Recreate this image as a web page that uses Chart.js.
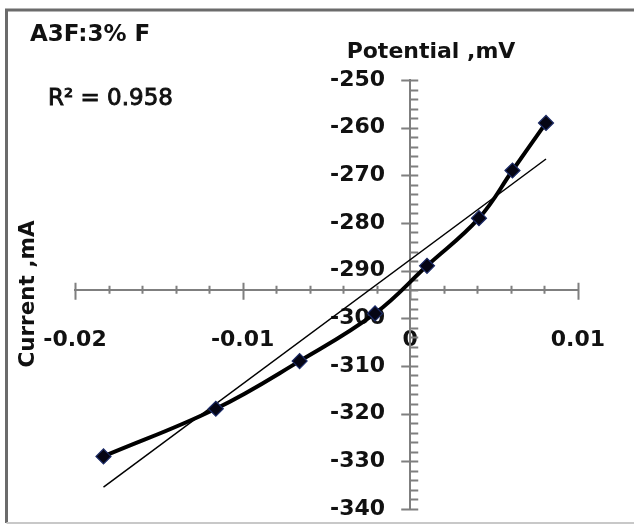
<!DOCTYPE html>
<html>
<head>
<meta charset="utf-8">
<script src="https://cdn.jsdelivr.net/npm/chart.js@4/dist/chart.umd.min.js"></script>
<style>
  html, body { margin: 0; padding: 0; background: #fff; }
  #wrap { width: 634px; height: 525px; }
</style>
</head>
<body>
<div id="wrap"><canvas id="polChart" width="634" height="525"></canvas></div>
<script>
// current (mA) against potential (mV) for sample A3F
const current = [-0.0183, -0.0116, -0.0066, -0.0021, 0.001, 0.0041, 0.0061, 0.0081];
const potential = [-329, -319, -309, -299, -289, -279, -269, -259];

const xTickValues = [-0.02, -0.01, 0, 0.01];
const yTickValues = [-340, -330, -320, -310, -300, -290, -280, -270, -260, -250];

const FONT = "'DejaVu Sans', sans-serif";
const INK = "#111";
const AXIS = "#7f7f7f";

// least squares line through the points
function linearFit(xs, ys) {
  const n = xs.length;
  const mx = xs.reduce((a, b) => a + b, 0) / n;
  const my = ys.reduce((a, b) => a + b, 0) / n;
  let sxy = 0, sxx = 0;
  for (let i = 0; i < n; i++) {
    sxy += (xs[i] - mx) * (ys[i] - my);
    sxx += (xs[i] - mx) * (xs[i] - mx);
  }
  const slope = sxy / sxx;
  return (x) => my + slope * (x - mx);
}

const fit = linearFit(current, potential);
const xMin = Math.min(...current);
const xMax = Math.max(...current);
const trend = [
  { x: xMin, y: fit(xMin) },
  { x: xMax, y: fit(xMax) },
];

const points = current.map((x, i) => ({ x, y: potential[i] }));

const fmtX = (v) => (Math.abs(v) < 1e-9 ? "0" : String(+v.toFixed(2)));

// scales take no room of their own, they sit over the plot
const noSpace = (scale) => {
  scale.width = 0;
  scale.height = 0;
};

const ctx = document.getElementById("polChart").getContext("2d");

new Chart(ctx, {
  type: "scatter",
  data: {
    datasets: [
      {
        data: points,
        showLine: true,
        tension: 0.4,
        borderColor: "#000",
        borderWidth: 4,
        pointStyle: "rectRot",
        pointRadius: 7.5,
        pointBackgroundColor: "#050514",
        pointBorderColor: "#1b2a66",
        pointBorderWidth: 1.2,
      },
      {
        data: trend,
        showLine: true,
        borderColor: "#000",
        borderWidth: 1.5,
        pointRadius: 0,
      },
    ],
  },
  options: {
    responsive: false,
    animation: false,
    layout: { padding: { left: 75, right: 54, top: 80, bottom: 15 } },
    plugins: {
      legend: { display: false },
      tooltip: { enabled: false },
    },
    scales: {
      x: {
        type: "linear",
        min: -0.02,
        max: 0.01,
        position: { y: -294 },
        afterFit: noSpace,
        afterBuildTicks: (s) => {
          s.ticks = xTickValues.map((v) => ({ value: v }));
        },
        grid: { display: false },
        border: { display: true, color: AXIS, width: 2 },
        ticks: {
          callback: fmtX,
          maxRotation: 0,
          autoSkip: false,
          padding: 29,
          color: INK,
          font: { family: FONT, size: 22, weight: "bold" },
        },
      },
      y: {
        type: "linear",
        min: -340,
        max: -250,
        position: { x: 0 },
        afterFit: noSpace,
        grid: { display: false },
        border: { display: true, color: AXIS, width: 2 },
        ticks: { display: false },
      },
      // value labels stand a little to the left of the zero line
      yLabels: {
        type: "linear",
        axis: "y",
        min: -340,
        max: -250,
        position: { x: -0.0015 },
        afterFit: noSpace,
        afterBuildTicks: (s) => {
          s.ticks = yTickValues.map((v) => ({ value: v }));
        },
        grid: { display: false },
        border: { display: false },
        ticks: {
          autoSkip: false,
          color: INK,
          font: { family: FONT, size: 22, weight: "bold" },
        },
      },
    },
  },
  plugins: [
    {
      id: "frameAndTicks",
      beforeDraw(chart) {
        const { ctx, width, height } = chart;
        ctx.save();
        ctx.fillStyle = "#fff";
        ctx.fillRect(0, 0, width, height);
        ctx.strokeStyle = "#6b6b6b";
        ctx.lineWidth = 3;
        ctx.beginPath();
        ctx.moveTo(width + 5, 10);
        ctx.lineTo(6.5, 10);
        ctx.lineTo(6.5, 523);
        ctx.stroke();
        ctx.strokeStyle = "#c8c8c8";
        ctx.lineWidth = 2;
        ctx.beginPath();
        ctx.moveTo(6.5, 523);
        ctx.lineTo(width + 5, 523);
        ctx.stroke();
        ctx.restore();
      },
      beforeDatasetsDraw(chart) {
        const { ctx, scales: { x, y } } = chart;
        const ax = x.getPixelForValue(0);
        const ay = y.getPixelForValue(-294);
        ctx.save();
        ctx.strokeStyle = AXIS;
        ctx.lineWidth = 2;
        ctx.beginPath();
        // current axis: minor every 0.002, major every 0.01
        for (let i = 0; i <= 15; i++) {
          const v = -0.02 + i * 0.002;
          const px = Math.round(x.getPixelForValue(v)) + 0.5;
          const major = i % 5 === 0;
          ctx.moveTo(px, ay - (major ? 7 : 4));
          ctx.lineTo(px, ay + (major ? 10 : 4));
        }
        // potential axis: minor every 2, major every 10
        for (let i = 0; i <= 45; i++) {
          const v = -340 + i * 2;
          const py = Math.round(y.getPixelForValue(v)) + 0.5;
          const major = i % 5 === 0;
          ctx.moveTo(ax - (major ? 9 : 0), py);
          ctx.lineTo(ax + 8, py);
        }
        ctx.stroke();
        ctx.restore();
      },
      afterDraw(chart) {
        const { ctx } = chart;
        ctx.save();
        ctx.fillStyle = INK;
        ctx.strokeStyle = INK;
        ctx.textBaseline = "middle";

        ctx.font = `bold 23px ${FONT}`;
        ctx.textAlign = "left";
        ctx.fillText("A3F:3% F", 30, 35);

        ctx.font = `23px ${FONT}`;
        ctx.lineWidth = 0.9;
        ctx.fillText("R\u00b2 = 0.958", 48, 99);
        ctx.strokeText("R\u00b2 = 0.958", 48, 99);

        ctx.font = `bold 22px ${FONT}`;
        ctx.textAlign = "center";
        ctx.fillText("Potential ,mV", 431, 52);

        ctx.translate(28, 294);
        ctx.rotate(-Math.PI / 2);
        ctx.font = `bold 21.5px ${FONT}`;
        ctx.fillText("Current ,mA", 0, 0);
        ctx.restore();
      },
    },
  ],
});
</script>
</body>
</html>
